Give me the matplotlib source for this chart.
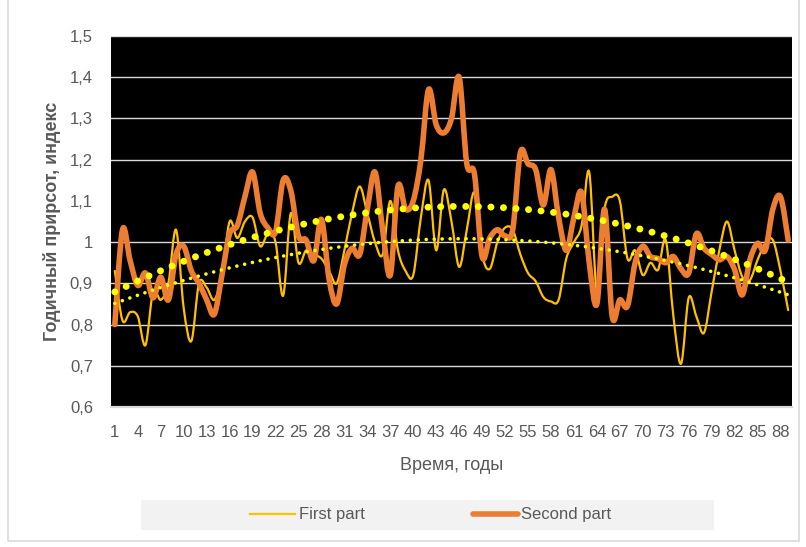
import numpy as np
import matplotlib
matplotlib.use("Agg")
import matplotlib.pyplot as plt
from matplotlib.path import Path
from matplotlib.patches import PathPatch, Rectangle
from matplotlib.lines import Line2D

# ---------------- data ----------------
years = list(range(1, 90))

first_part = [
    0.93, 0.81, 0.83, 0.82, 0.75, 0.88, 0.86, 0.90, 1.03, 0.84,
    0.76, 0.90, 0.89, 0.86, 0.92, 1.05, 1.01, 1.05, 1.06, 0.99,
    1.02, 1.00, 0.87, 1.07, 0.95, 0.98, 0.97, 0.96, 0.93, 0.90,
    0.98, 1.07, 1.135, 1.07, 1.00, 0.97, 1.10, 0.98, 0.93, 0.92,
    1.06, 1.15, 0.98, 1.127, 1.05, 0.94, 1.03, 1.12, 0.97, 0.935,
    1.00, 1.035, 1.03, 0.97, 0.925, 0.905, 0.867, 0.856, 0.86, 0.96,
    1.00, 1.04, 1.17, 0.88, 1.08, 1.11, 1.10, 0.96, 0.98, 0.92,
    0.95, 0.933, 1.005, 0.82, 0.705, 0.865, 0.82, 0.78, 0.88, 0.98,
    1.05, 0.98, 0.916, 0.908, 0.957, 0.997, 1.005, 0.93, 0.835,
]

second_part = [
    0.80, 1.03, 0.955, 0.895, 0.925, 0.865, 0.915, 0.86, 0.97, 0.99,
    0.93, 0.90, 0.86, 0.825, 0.92, 1.02, 1.04, 1.11, 1.17, 1.07,
    1.035, 1.025, 1.15, 1.125, 1.015, 1.005, 0.955, 1.055, 0.91, 0.85,
    0.945, 0.985, 0.97, 1.08, 1.17, 1.03, 0.92, 1.135, 1.08, 1.10,
    1.20, 1.37, 1.285, 1.265, 1.30, 1.40, 1.19, 1.165, 0.965, 1.01,
    1.03, 1.015, 1.03, 1.217, 1.19, 1.176, 1.09, 1.176, 1.06, 0.98,
    1.06, 1.12, 0.95, 0.85, 1.08, 0.82, 0.86, 0.845, 0.95, 0.99,
    0.965, 0.96, 0.95, 0.965, 0.935, 0.925, 1.02, 0.985, 0.97, 0.957,
    0.965, 0.933, 0.872, 0.957, 0.997, 0.98, 1.08, 1.11, 1.005,
]

y_ticks = [0.6, 0.7, 0.8, 0.9, 1.0, 1.1, 1.2, 1.3, 1.4, 1.5]
y_tick_labels = ["0,6", "0,7", "0,8", "0,9", "1", "1,1", "1,2", "1,3", "1,4", "1,5"]
grid_values = [0.7, 0.8, 0.9, 1.0, 1.2, 1.3, 1.4, 1.5]
x_tick_years = list(range(1, 90, 3))

series_names = ["First part", "Second part"]
x_title = "Время, годы"
y_title = "Годичный прирсот, индекс"

# ---------------- style ----------------
C_FIRST = "#FFC000"
C_SECOND = "#ED7D31"
C_TREND = "#FFFF00"
C_TEXT = "#595959"
C_GRID = "#D9D9D9"
FONT = ["Liberation Sans", "DejaVu Sans"]
plt.rcParams["font.family"] = FONT


def smooth_path(xs, ys):
    """Excel-like smoothed line: cubic Bezier through every data point."""
    x = np.asarray(xs, float)
    y = np.asarray(ys, float)
    xp = np.concatenate([[x[0]], x, [x[-1]]])
    yp = np.concatenate([[y[0]], y, [y[-1]]])
    verts = [(x[0], y[0])]
    codes = [Path.MOVETO]
    for i in range(len(x) - 1):
        c1 = (xp[i + 1] + (xp[i + 2] - xp[i]) / 6.0, yp[i + 1] + (yp[i + 2] - yp[i]) / 6.0)
        c2 = (xp[i + 2] - (xp[i + 3] - xp[i + 1]) / 6.0, yp[i + 2] - (yp[i + 3] - yp[i + 1]) / 6.0)
        verts += [c1, c2, (xp[i + 2], yp[i + 2])]
        codes += [Path.CURVE4] * 3
    return Path(verts, codes)


W, H = 806, 547
fig = plt.figure(figsize=(W / 100, H / 100), dpi=100)
fig.patch.set_facecolor("white")

# chart-area border
fig.add_artist(Rectangle((8 / W, 6 / H), (799 - 8) / W, 1.2, transform=fig.transFigure,
                         fill=False, edgecolor=C_GRID, linewidth=1.2))

L, R, T, B = 111, 792, 36, 407
ax = fig.add_axes([L / W, 1 - B / H, (R - L) / W, (B - T) / H])
ax.set_facecolor("black")
ax.set_xlim(0.5, 89.5)
ax.set_ylim(0.6, 1.5)

for gv in grid_values:
    ax.axhline(gv, color=C_GRID, linewidth=1.0, zorder=1)

for s in ["left", "right", "top"]:
    ax.spines[s].set_visible(False)
ax.spines["bottom"].set_color(C_GRID)
ax.spines["bottom"].set_linewidth(1.6)

ax.set_yticks(y_ticks)
ax.set_yticklabels(y_tick_labels)
ax.set_xticks(x_tick_years)
ax.set_xticklabels([str(v) for v in x_tick_years])
ax.tick_params(axis="y", length=0, pad=13, labelsize=12, labelcolor=C_TEXT)
ax.tick_params(axis="x", length=0, pad=13, labelsize=12, labelcolor=C_TEXT)

# series (smoothed)
ax.add_patch(PathPatch(smooth_path(years, first_part), fill=False, edgecolor=C_FIRST,
                       linewidth=1.6, capstyle="round", joinstyle="round", zorder=3))
ax.add_patch(PathPatch(smooth_path(years, second_part), fill=False, edgecolor=C_SECOND,
                       linewidth=4.0, capstyle="round", joinstyle="round", zorder=4))

# polynomial trend lines (order 2)
yrs = np.asarray(years, float)
tr1 = np.polyval(np.polyfit(yrs, first_part, 2), yrs)
tr2 = np.polyval(np.polyfit(yrs, second_part, 2), yrs)
ax.plot(yrs, tr1, color=C_TREND, linewidth=2.6, linestyle=(0, (0.01, 2.2)),
        dash_capstyle="round", zorder=5)
ax.plot(yrs, tr2, color=C_TREND, linewidth=5.0, linestyle=(0, (0.01, 1.8)),
        dash_capstyle="round", zorder=5)

# axis titles
ax.set_xlabel(x_title, fontsize=13, color=C_TEXT)
ax.xaxis.label.set_va("center")
ax.xaxis.set_label_coords(0.5 + (452 - (L + R) / 2) / (R - L), -(465 - B) / (B - T))
ax.set_ylabel(y_title, fontsize=13, color=C_TEXT, fontweight="bold")
ax.yaxis.label.set_va("center")
ax.yaxis.set_label_coords(-(L - 52) / (R - L), 0.5)

# legend box + legend
fig.add_artist(Rectangle((141 / W, 1 - 530 / H), (714 - 141) / W, 30 / H,
                         transform=fig.transFigure, facecolor="#F2F2F2", edgecolor="none"))
handles = [Line2D([], [], color=C_FIRST, linewidth=1.6),
           Line2D([], [], color=C_SECOND, linewidth=4.0, solid_capstyle="round")]
leg = fig.legend(handles, series_names, loc="center", bbox_to_anchor=(431 / W, 1 - 515 / H),
                 ncol=2, frameon=False, fontsize=12, handlelength=2.7, handletextpad=0.2,
                 columnspacing=6.5, labelcolor=C_TEXT)

fig.savefig("out.png", dpi=100, facecolor="white")
